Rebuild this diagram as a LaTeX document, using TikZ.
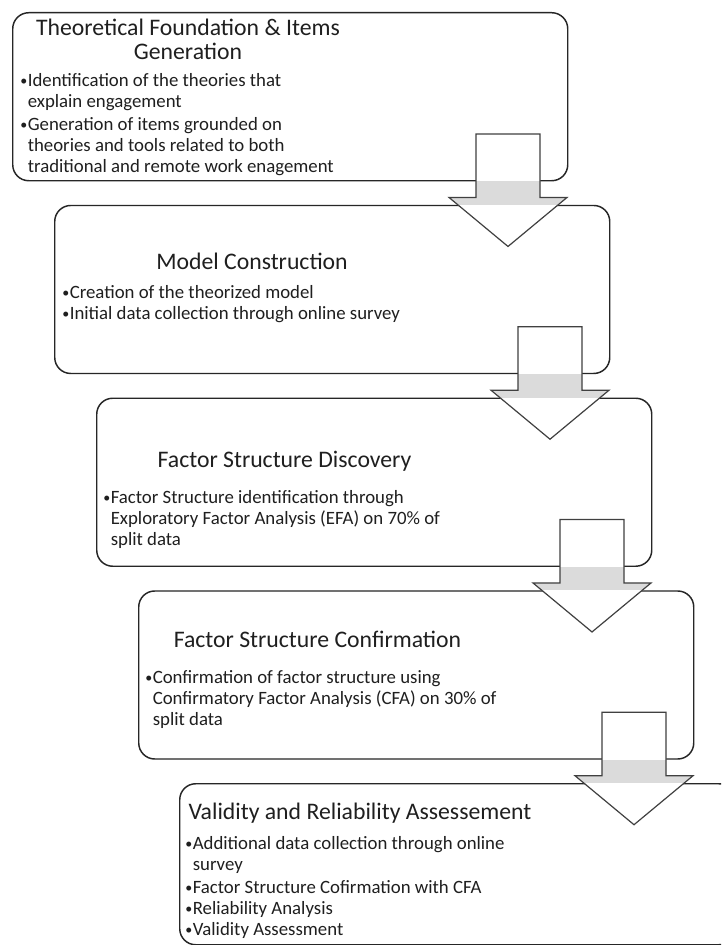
\documentclass[tikz,border=0pt]{standalone}
\usepackage{fontspec}
\setmainfont{Carlito}
\usetikzlibrary{calc}

% one unit = one pixel of a 721 x 945 canvas, y growing downwards
\tikzset{
  x=0.75pt, y=-0.75pt,
  stepbox/.style={draw=black!85, line width=1.1pt, rounded corners=12pt,
    fill=white, minimum width=416.25pt, minimum height=126pt,
    anchor=north west, inner sep=0pt},
  arrowline/.style={draw=black!75, line width=0.9pt, line join=miter},
  arrowband/.style={fill=black!14},
  % multi-line texts are placed by the baseline of their last line
  steptitle/.style={font=\fontsize{17.8}{17.3}\selectfont, text=black!88,
    anchor=base, inner sep=0pt, align=center},
  stepitems/.style={font=\fontsize{14.1}{15.6}\selectfont, text=black!88,
    anchor=base west, inner sep=0pt, align=left},
}

% bullet mark and the matching hanging indent
\newcommand{\itm}{\makebox[0.4em][l]{\raisebox{0.05em}{\fontsize{10.5}{10.5}\selectfont •}}}
\newcommand{\cont}{\hspace*{0.4em}}

% block arrow from step #1 down into step #2
\newcommand{\arrowshape}[1]{%
  ($(#1.north west)+(464,122)$) -- ($(#1.north west)+(528,122)$)
  -- ($(#1.south west)+(528,16)$) -- ($(#1.south west)+(555,16)$)
  -- ($(#1.south west)+(496,65)$) -- ($(#1.south west)+(437,16)$)
  -- ($(#1.south west)+(464,16)$) -- cycle}
\newcommand{\steparrow}[2]{%
  \fill[white] \arrowshape{#1};
  \begin{scope}
    \clip \arrowshape{#1};
    \path[arrowband] (#1.south west) rectangle (#2.north east);
  \end{scope}
  \path[arrowline] \arrowshape{#1};
}

\begin{document}
\begin{tikzpicture}
\useasboundingbox (0,0) rectangle (721,945);
\clip (0,0) rectangle (721,945);
\fill[white] (0,0) rectangle (721,945);

% the five steps
\node[stepbox] (s1) at (12,12) {};
\node[stepbox] (s2) at (54,204.75) {};
\node[stepbox] (s3) at (96,397.5) {};
\node[stepbox] (s4) at (138,590.25) {};
\node[stepbox, minimum height=120.75pt] (s5) at (179,783) {};

% arrows between consecutive steps
\steparrow{s1}{s2}
\steparrow{s2}{s3}
\steparrow{s3}{s4}
\steparrow{s4}{s5}

% step 1
\node[steptitle] (t1) at (188,60) {Theoretical Foundation \& Items\\[0.8pt]Generation};
\node[stepitems] (i1) at (20,172) {\itm Identification of the theories that\\
\cont explain engagement\\[1.8pt]
\itm Generation of items grounded on\\
\cont theories and tools related to both\\
\cont traditional and remote work enagement};

% step 2
\node[steptitle] (t2) at (252,269) {Model Construction};
\node[stepitems] (i2) at (62,319.5) {\itm Creation of the theorized model\\[0.5pt]
\itm Initial data collection through online survey};

% step 3
\node[steptitle] (t3) at (284.5,467) {Factor Structure Discovery};
\node[stepitems] (i3) at (103,545) {\itm Factor Structure identification through\\
\cont Exploratory Factor Analysis (EFA) on 70\% of\\
\cont split data};

% step 4
\node[steptitle] (t4) at (317.5,647) {Factor Structure Confirmation};
\node[stepitems] (i4) at (145,725) {\itm Confirmation of factor structure using\\
\cont Confirmatory Factor Analysis (CFA) on 30\% of\\
\cont split data};

% step 5
\node[steptitle] (t5) at (360,819) {Validity and Reliability Assessement};
\node[stepitems] (i5) at (185,935) {\itm Additional data collection through online\\
\cont survey\\[1.5pt]
\itm Factor Structure Cofirmation with CFA\\
\itm Reliability Analysis\\
\itm Validity Assessment};
\end{tikzpicture}
\end{document}
